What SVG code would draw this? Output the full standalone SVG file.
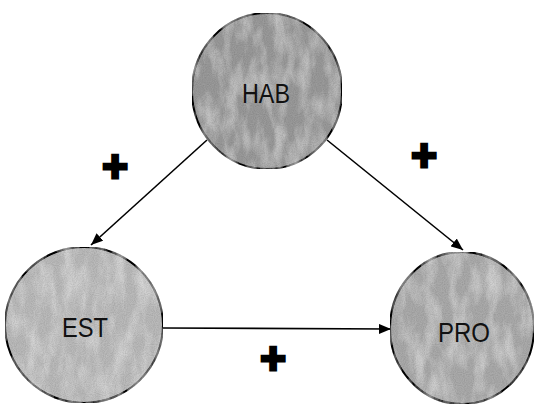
<svg xmlns="http://www.w3.org/2000/svg" width="535" height="405" viewBox="0 0 535 405">
<style>
.node{stroke:#000;stroke-width:2}
.lbl{font-family:"Liberation Sans",Arial,sans-serif;font-size:28px;fill:#111;text-anchor:middle}
.plus{font-family:"Liberation Sans",Arial,sans-serif;font-size:44px;font-weight:bold;fill:#000;stroke:#000;stroke-width:3;text-anchor:middle}
.edge{stroke:#000;stroke-width:1.6;fill:none;marker-end:url(#arr)}
</style>
<defs>
<marker id="arr" viewBox="0 0 12 10" refX="12" refY="5" markerWidth="12" markerHeight="10" markerUnits="userSpaceOnUse" orient="auto">
<path d="M0,0 L12,5 L0,10 Z" fill="#000"/>
</marker>
<filter id="tex" x="0" y="0" width="1" height="1">
<feTurbulence type="fractalNoise" baseFrequency="0.08 0.03" numOctaves="4" seed="7" result="n"/>
<feColorMatrix in="n" type="matrix" values="0 0 0 0 1  0 0 0 0 1  0 0 0 0 1  0.8 0 0 0 -0.3" result="w"/>
<feComposite in="w" in2="SourceAlpha" operator="in" result="wi"/>
<feTurbulence type="fractalNoise" baseFrequency="0.9" numOctaves="1" seed="2" result="g"/>
<feColorMatrix in="g" type="matrix" values="0 0 0 0 0  0 0 0 0 0  0 0 0 0 0  0.45 0 0 0 -0.15" result="gd"/>
<feComposite in="gd" in2="SourceAlpha" operator="in" result="gdi"/>
<feMerge><feMergeNode in="SourceGraphic"/><feMergeNode in="wi"/><feMergeNode in="gdi"/></feMerge>
</filter>
</defs>
<g id="connectors">
<line class="edge" x1="207" y1="140" x2="91" y2="245"/>
<line class="edge" x1="327" y1="140" x2="463" y2="250"/>
<line class="edge" x1="163" y1="328" x2="391" y2="329"/>
</g>
<g id="HAB">
<ellipse class="node" cx="267" cy="91" rx="75" ry="78" fill="#9a9a9a" filter="url(#tex)"/>
<text class="lbl" x="266" y="103" textLength="48" lengthAdjust="spacingAndGlyphs">HAB</text>
</g>
<g id="EST">
<ellipse class="node" cx="84" cy="325" rx="79" ry="78" fill="#bababa" filter="url(#tex)"/>
<text class="lbl" x="85" y="337" textLength="46" lengthAdjust="spacingAndGlyphs">EST</text>
</g>
<g id="PRO">
<ellipse class="node" cx="462" cy="328" rx="72" ry="76" fill="#aaaaaa" filter="url(#tex)"/>
<text class="lbl" x="464" y="342" textLength="52" lengthAdjust="spacingAndGlyphs">PRO</text>
</g>
<g id="signs">
<text class="plus" x="115" y="182">+</text>
<text class="plus" x="424" y="171">+</text>
<text class="plus" x="273" y="374">+</text>
</g>
</svg>
